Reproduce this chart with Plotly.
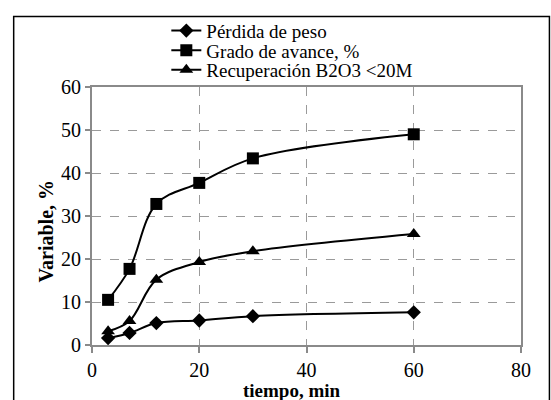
import plotly.graph_objects as go

tiempo = [3, 7, 12, 20, 30, 60]
perdida_peso = [1.6, 2.8, 5.1, 5.7, 6.7, 7.6]
grado_avance = [10.5, 17.7, 32.8, 37.7, 43.4, 49.0]
recuperacion = [3.2, 5.6, 15.2, 19.3, 21.8, 25.8]

names = ["Pérdida de peso", "Grado de avance, %", "Recuperación B2O3 <20M"]
series = [perdida_peso, grado_avance, recuperacion]
symbols = ["diamond", "square", "triangle-up"]
sizes = [11, 12, 12]
legends = ["legend", "legend2", "legend3"]

FONT = "Liberation Serif"
W, H = 551, 400
ml, mr, mt, mb = 91.5, 29.5, 82, 54.5
ph = H - mt - mb

fig = go.Figure()
for nm, ys, sym, sz, lg in zip(names, series, symbols, sizes, legends):
    fig.add_trace(go.Scatter(
        x=tiempo, y=ys, name=nm, mode="lines+markers",
        line=dict(color="black", width=2, shape="spline", smoothing=1.0),
        marker=dict(symbol=sym, size=sz, color="black"),
        legend=lg,
    ))

def py(p):
    return (H - mb - p) / ph

lx = (166 - ml) / (W - ml - mr)
legs = {}
for lg, yp in zip(legends, [24.5, 44.5, 64.5]):
    legs[lg] = dict(font=dict(family=FONT, size=19, color="black"),
                    bgcolor="rgba(0,0,0,0)", borderwidth=0,
                    xref="paper", yref="paper", xanchor="left", yanchor="middle",
                    tracegroupgap=0, itemwidth=30, x=lx, y=py(yp))

fig.update_layout(
    width=W, height=H,
    margin=dict(l=ml, r=mr, t=mt, b=mb, pad=0),
    paper_bgcolor="white", plot_bgcolor="white",
    font=dict(family=FONT, size=20, color="black"),
    showlegend=True,
    **legs,
    xaxis=dict(range=[0, 80], dtick=20, tick0=0,
               showline=True, linecolor="#8a8a8a", linewidth=2, mirror=True,
               ticks="outside", ticklen=6, tickwidth=2, tickcolor="#8a8a8a",
               showgrid=True, gridcolor="#9a9a9a", griddash="dash", gridwidth=1,
               zeroline=False, tickfont=dict(family=FONT, size=20, color="black")),
    yaxis=dict(range=[0, 60], dtick=10, tick0=0,
               showline=True, linecolor="#8a8a8a", linewidth=2, mirror=True,
               ticks="outside", ticklen=5, tickwidth=2, tickcolor="#8a8a8a",
               showgrid=True, gridcolor="#9a9a9a", griddash="dash", gridwidth=1,
               zeroline=False, tickfont=dict(family=FONT, size=20, color="black")),
    annotations=[
        dict(text="<b>tiempo, min</b>", xref="paper", yref="paper",
             x=(291.5 - ml) / (W - ml - mr), y=py(391.5), xanchor="center", yanchor="middle",
             showarrow=False, font=dict(family=FONT, size=19, color="black")),
        dict(text="<b>Variable, %</b>", xref="paper", yref="paper", textangle=-90,
             x=(45 - ml) / (W - ml - mr), y=py(229), xanchor="center", yanchor="middle",
             showarrow=False, font=dict(family=FONT, size=20, color="black")),
    ],
    shapes=[
        dict(type="rect", xref="paper", yref="paper",
             x0=(13 - ml) / (W - ml - mr), x1=(550 - ml) / (W - ml - mr),
             y0=py(410), y1=py(10), line=dict(color="black", width=1.5),
             fillcolor="rgba(0,0,0,0)", layer="below"),
    ],
)

fig.write_html("out.html")
